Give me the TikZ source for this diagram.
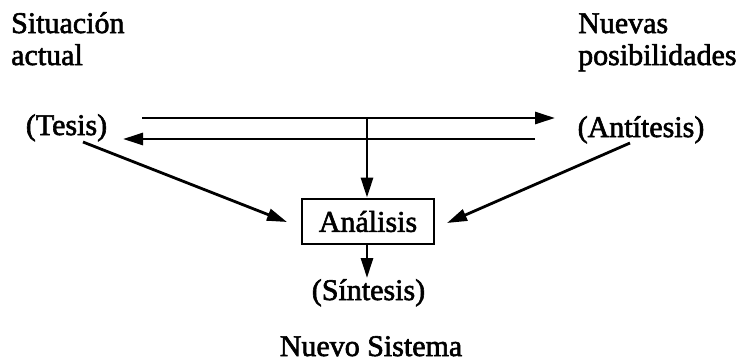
\documentclass[tikz,border=0pt]{standalone}
\usepackage{fontspec}
\setmainfont[FakeBold=2]{Liberation Serif}
\usetikzlibrary{arrows.meta}
\begin{document}
\begin{tikzpicture}[x=1pt,y=-1pt,
  label/.style={font=\fontsize{30}{32}\selectfont, inner sep=0pt},
  conn/.style={line width=2.8pt, -{Triangle[length=20pt,width=12pt]}},
  boxed/.style={draw, line width=2.8pt, minimum width=132pt, minimum height=45pt, inner sep=0pt, font=\fontsize{30}{32}\selectfont}]
\useasboundingbox (0,0) rectangle (739,362);

% headings (base anchor sits on the last line)
\node[label, anchor=base west, align=left] (sit) at (11,65) {Situación\\actual};
\node[label, anchor=base west, align=left] (nue) at (578,65) {Nuevas\\posibilidades};

% the three stages
\node[label, anchor=base] (tesis) at (66.5,135) {(Tesis)};
\node[label, anchor=base] (anti) at (641,137) {(Antítesis)};
\node[boxed] (ana) at (368,221.5) {Análisis};
\node[label, anchor=base] (sint) at (368.5,300) {(Síntesis)};
\node[label, anchor=base] (nuevo) at (371,356) {Nuevo Sistema};

% free ends of the links
\coordinate (t1) at (142,118);
\coordinate (t2) at (555,118);
\coordinate (tj) at (367,118);
\coordinate (b1) at (535,139);
\coordinate (b2) at (123,139);
\coordinate (ts) at (83,142);
\coordinate (as) at (630,143);
\coordinate (ti) at (287,222);
\coordinate (ai) at (447,223);
\coordinate (so) at (367,278);

\draw[conn] (t1) -- (t2);
\draw[conn] (b1) -- (b2);
\draw[conn] (tj) -- (tj |- ana.north);
\draw[conn] (ts) -- (ti);
\draw[conn] (as) -- (ai);
\draw[conn] (ana.south -| tj) -- (so);
\end{tikzpicture}
\end{document}
